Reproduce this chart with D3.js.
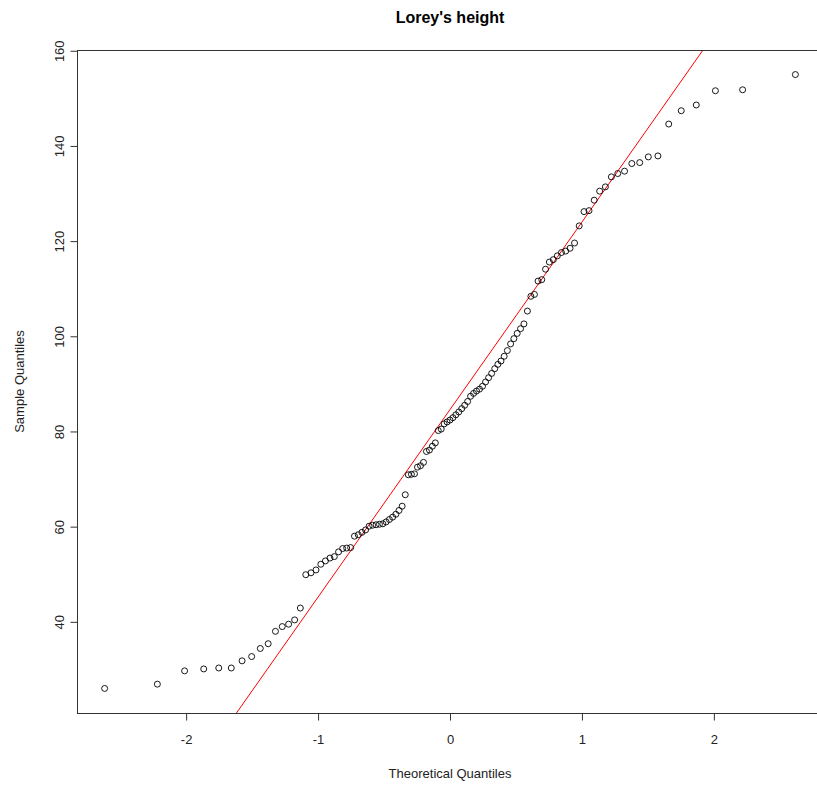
<!DOCTYPE html>
<html>
  <head>
    <meta charset="UTF-8" />
    <title>Lorey's height</title>
    <script src="https://d3js.org/d3.v7.min.js"></script>
    <style>
      body {
        margin: 0;
        background-color: #fff;
      }
      svg {
        display: block;
        font-family: "Liberation Sans", Arial, sans-serif;
      }
    </style>
  </head>
  <body>
    <div id="chart"></div>
    <script>
      // sample quantiles (sorted Lorey's height values)
      const sampleValues = [
        26.0, 26.9, 29.7, 30.1, 30.3, 30.3, 31.8, 32.7, 34.4, 35.4,
        38.0, 39.0, 39.5, 40.4, 42.9, 49.9, 50.3, 50.9, 52.1, 52.8,
        53.4, 53.7, 54.7, 55.4, 55.5, 55.6, 58.0, 58.3, 58.8, 59.3,
        60.1, 60.3, 60.4, 60.5, 60.6, 61.0, 61.5, 62.0, 62.6, 63.4,
        64.3, 66.7, 70.9, 71.0, 71.1, 72.5, 72.8, 73.5, 75.8, 76.1,
        76.9, 77.6, 80.2, 80.5, 81.6, 82.0, 82.4, 82.9, 83.5, 84.1,
        84.8, 85.5, 86.3, 87.4, 88.0, 88.5, 88.9, 89.5, 90.4, 91.3,
        92.2, 93.2, 94.1, 94.8, 95.8, 97.0, 98.4, 99.5, 100.6, 101.6,
        102.6, 105.3, 108.4, 108.8, 111.6, 111.9, 114.1, 115.6, 116.1, 116.9,
        117.6, 117.9, 118.5, 119.6, 123.2, 126.2, 126.4, 128.6, 130.5, 131.4,
        133.5, 134.2, 134.7, 136.3, 136.5, 137.7, 137.9, 144.6, 147.4, 148.6,
        151.6, 151.8, 155.0
      ];

      // reference line (qqline)
      const lineIntercept = 84.6;
      const lineSlope = 39.4;

      const xTicks = [-2, -1, 0, 1, 2];
      const yTicks = [40, 60, 80, 100, 120, 140, 160];

      const title = "Lorey's height";
      const xLabel = "Theoretical Quantiles";
      const yLabel = "Sample Quantiles";

      // inverse normal cdf (Acklam), for the theoretical quantiles
      function qnorm(p) {
        const a = [-39.69683028665376, 220.9460984245205, -275.9285104469687,
          138.357751867269, -30.66479806614716, 2.506628277459239];
        const b = [-54.47609879822406, 161.5858368580409, -155.6989798598866,
          66.80131188771972, -13.28068155288572];
        const c = [-0.007784894002430293, -0.3223964580411365, -2.400758277161838,
          -2.549732539343734, 4.374664141464968, 2.938163982698783];
        const d = [0.007784695709041462, 0.3224671290700398, 2.445134137142996,
          3.754408661907416];
        const plow = 0.02425;
        if (p < plow) {
          const q = Math.sqrt(-2 * Math.log(p));
          return (((((c[0] * q + c[1]) * q + c[2]) * q + c[3]) * q + c[4]) * q + c[5]) /
            ((((d[0] * q + d[1]) * q + d[2]) * q + d[3]) * q + 1);
        }
        if (p > 1 - plow) return -qnorm(1 - p);
        const q = p - 0.5;
        const r = q * q;
        return (((((a[0] * r + a[1]) * r + a[2]) * r + a[3]) * r + a[4]) * r + a[5]) * q /
          (((((b[0] * r + b[1]) * r + b[2]) * r + b[3]) * r + b[4]) * r + 1);
      }

      const n = sampleValues.length;
      const points = sampleValues.map((v, i) => ({
        x: qnorm((i + 1 - 0.5) / n),
        y: v,
      }));

      const width = 817;
      const height = 792;
      const plot = { left: 77, top: 50, right: 823, bottom: 713 };

      function padded(ext) {
        const pad = (ext[1] - ext[0]) * 0.04;
        return [ext[0] - pad, ext[1] + pad];
      }

      const x = d3
        .scaleLinear()
        .domain(padded(d3.extent(points, (d) => d.x)))
        .range([plot.left, plot.right]);

      const y = d3
        .scaleLinear()
        .domain(padded(d3.extent(points, (d) => d.y)))
        .range([plot.bottom, plot.top]);

      const svg = d3
        .select("#chart")
        .append("svg")
        .attr("width", width)
        .attr("height", height);

      svg
        .append("clipPath")
        .attr("id", "clip")
        .append("rect")
        .attr("x", plot.left)
        .attr("y", plot.top)
        .attr("width", plot.right - plot.left)
        .attr("height", plot.bottom - plot.top);

      // qqline
      const xd = x.domain();
      svg
        .append("line")
        .attr("clip-path", "url(#clip)")
        .attr("x1", x(xd[0]))
        .attr("y1", y(lineIntercept + lineSlope * xd[0]))
        .attr("x2", x(xd[1]))
        .attr("y2", y(lineIntercept + lineSlope * xd[1]))
        .attr("stroke", "#ff0000")
        .attr("stroke-width", 1);

      // points
      svg
        .append("g")
        .selectAll("circle")
        .data(points)
        .enter()
        .append("circle")
        .attr("cx", (d) => x(d.x))
        .attr("cy", (d) => y(d.y))
        .attr("r", 3)
        .attr("fill", "none")
        .attr("stroke", "#000")
        .attr("stroke-width", 0.9);

      // box
      svg
        .append("rect")
        .attr("x", plot.left + 0.5)
        .attr("y", plot.top + 0.5)
        .attr("width", plot.right - plot.left)
        .attr("height", plot.bottom - plot.top)
        .attr("fill", "none")
        .attr("stroke", "#333")
        .attr("stroke-width", 1);

      // x axis
      const xAxis = d3
        .axisBottom(x)
        .tickValues(xTicks)
        .tickSize(7)
        .tickSizeOuter(0)
        .tickPadding(14)
        .tickFormat((d) => String(d));

      const gx = svg
        .append("g")
        .attr("transform", `translate(0,${plot.bottom + 0.5})`)
        .call(xAxis);
      gx.select(".domain")
        .attr("d", `M${x(xTicks[0])},0H${x(xTicks[xTicks.length - 1])}`)
        .attr("stroke", "#333");
      gx.selectAll(".tick line").attr("stroke", "#333");
      gx.selectAll(".tick text")
        .attr("font-size", 13)
        .attr("fill", "#222")
        .attr("font-family", "Liberation Sans, Arial, sans-serif");

      // y axis
      const yAxis = d3
        .axisLeft(y)
        .tickValues(yTicks)
        .tickSize(7)
        .tickSizeOuter(0)
        .tickFormat((d) => String(d));

      const gy = svg
        .append("g")
        .attr("transform", `translate(${plot.left + 0.5},0)`)
        .call(yAxis);
      gy.select(".domain")
        .attr("d", `M0,${y(yTicks[0])}V${y(yTicks[yTicks.length - 1])}`)
        .attr("stroke", "#333");
      gy.selectAll(".tick line").attr("stroke", "#333");
      gy.selectAll(".tick text")
        .attr("x", null)
        .attr("dy", null)
        .attr("font-size", 13)
        .attr("fill", "#222")
        .attr("font-family", "Liberation Sans, Arial, sans-serif")
        .attr("text-anchor", "middle")
        .attr("transform", "translate(-14,0) rotate(-90)");

      // title and axis labels
      svg
        .append("text")
        .attr("x", 450)
        .attr("y", 23)
        .attr("text-anchor", "middle")
        .attr("font-size", 16)
        .attr("font-weight", "bold")
        .attr("fill", "#000")
        .text(title);

      svg
        .append("text")
        .attr("x", 450)
        .attr("y", 778)
        .attr("text-anchor", "middle")
        .attr("font-size", 13)
        .attr("fill", "#222")
        .text(xLabel);

      svg
        .append("text")
        .attr("transform", `translate(24,${(plot.top + plot.bottom) / 2}) rotate(-90)`)
        .attr("text-anchor", "middle")
        .attr("font-size", 13)
        .attr("fill", "#222")
        .text(yLabel);
    </script>
  </body>
</html>
